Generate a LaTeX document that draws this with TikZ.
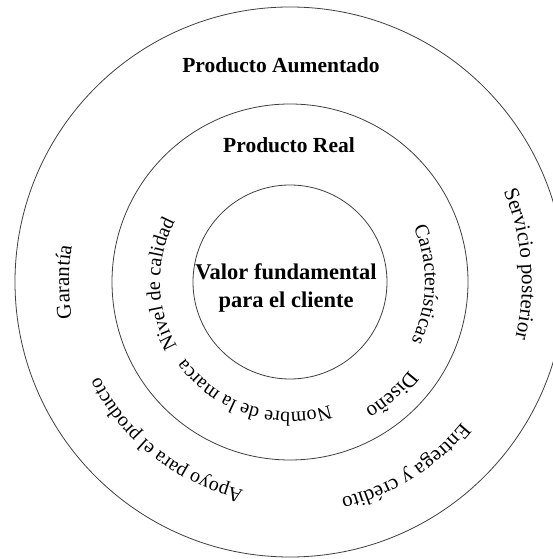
\documentclass[tikz,border=0pt]{standalone}
\usepackage{fontspec}
\setmainfont{Liberation Serif}
\usetikzlibrary{decorations.text}
\newcommand\curvedfont{\fontsize{20}{24}\selectfont}
\newcommand\bigcurvedfont{\fontsize{21}{25}\selectfont}
\newcommand\titlefont{\fontsize{21.5}{26}\selectfont\bfseries}
\newcommand\valorfont{\fontsize{22.5}{27}\selectfont\bfseries}
\tikzset{
  ring/.style={draw=black!75, line width=0.8pt},
  title/.style={font=\titlefont, anchor=base, inner sep=0pt},
  curved/.style={decorate, decoration={text along path, text={|\curvedfont|#1}, text align=center}},
  bigcurved/.style={decorate, decoration={text along path, text={|\bigcurvedfont|#1}, text align=center}}
}
\begin{document}
\begin{tikzpicture}[x=1pt,y=1pt]
\useasboundingbox (0,0) rectangle (553,559);
\clip (0,0) rectangle (553,559);
\fill[white] (0,0) rectangle (553,559);
\coordinate (C) at (290,277);
% circles
\node[ring, circle, minimum size=550pt, inner sep=0pt] (outer) at (C) {};
\node[ring, circle, minimum size=356pt, inner sep=0pt] (middle) at (C) {};
\node[ring, circle, minimum size=194pt, inner sep=0pt] (inner) at (C) {};
% titles
\node[title] (aum) at (281,486) {Producto Aumentado};
\node[title] (real) at (289,406) {Producto Real};
\node[title, font=\valorfont] (valor1) at (286,279) {Valor fundamental};
\node[title, font=\valorfont] (valor2) at (286,251) {para el cliente};
% inner ring texts
\path[curved={Nivel de calidad}] ([shift={(271:130)}]C) arc[start angle=271, end angle=91, radius=130];
\path[curved={Características}] ([shift={(89:135)}]C) arc[start angle=89, end angle=-91, radius=135];
\path[curved={Nombre de la marca}] ([shift={(342:130)}]C) arc[start angle=342, end angle=162, radius=130];
\path[bigcurved={Diseño}] ([shift={(42:148)}]C) arc[start angle=42, end angle=-138, radius=148];
% outer ring texts
\path[bigcurved={Garantía}] ([shift={(270:221)}]C) arc[start angle=270, end angle=90, radius=221];
\path[bigcurved={Servicio posterior}] ([shift={(94.5:232)}]C) arc[start angle=94.5, end angle=-85.5, radius=232];
\path[bigcurved={Entrega y crédito}] ([shift={(32:222)}]C) arc[start angle=32, end angle=-148, radius=222];
\path[curved={Apoyo para el producto}] ([shift={(322:213)}]C) arc[start angle=322, end angle=142, radius=213];
\end{tikzpicture}
\end{document}
